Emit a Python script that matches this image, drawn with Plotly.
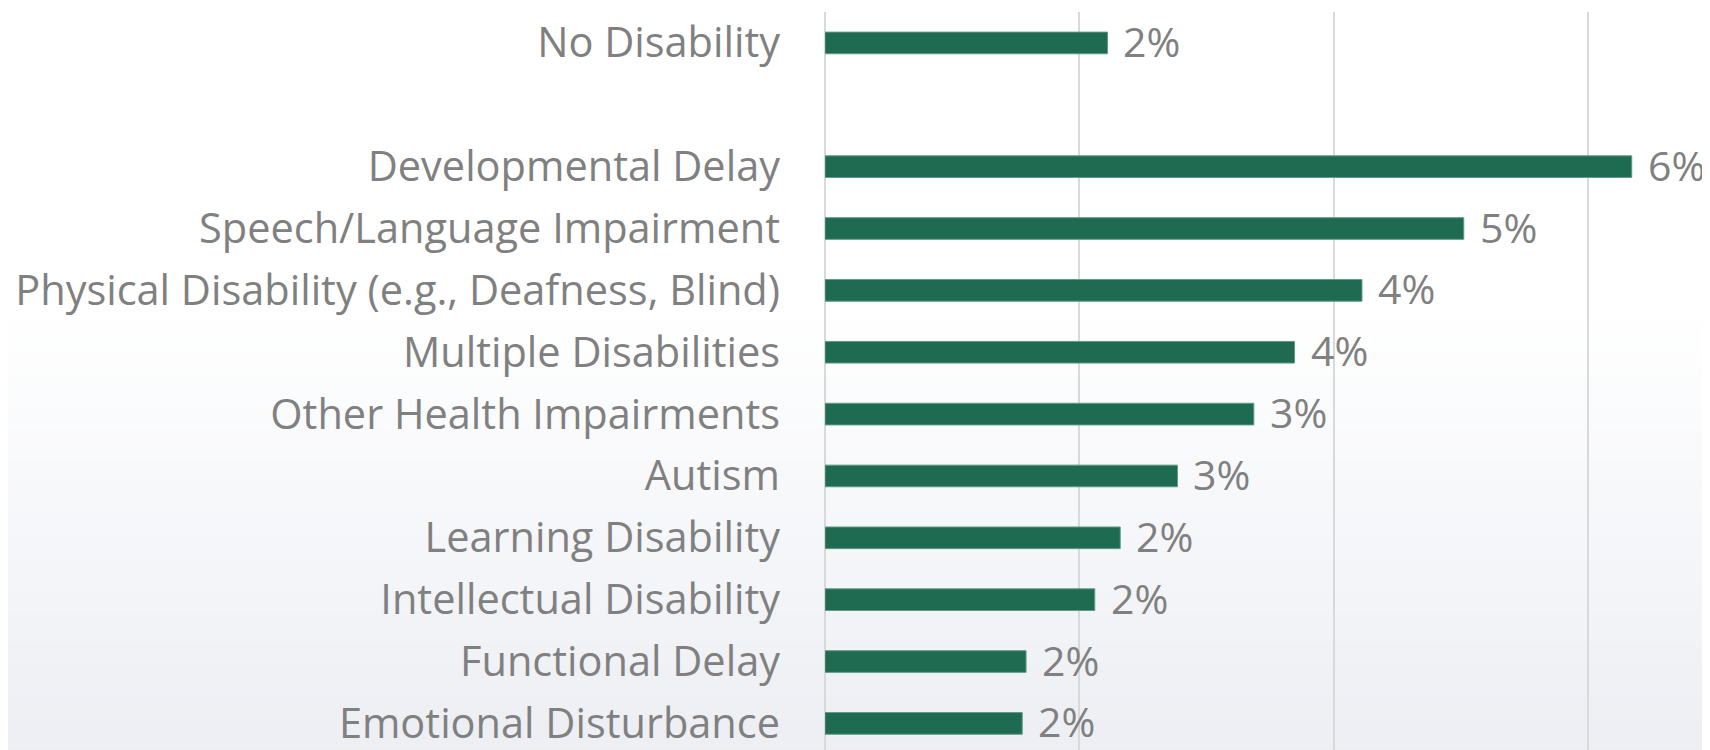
import plotly.graph_objects as go

# categories top to bottom; the blank one is the gap under "No Disability"
categories = [
    "No Disability",
    " ",
    "Developmental Delay",
    "Speech/Language Impairment",
    "Physical Disability (e.g., Deafness, Blind)",
    "Multiple Disabilities",
    "Other Health Impairments",
    "Autism",
    "Learning Disability",
    "Intellectual Disability",
    "Functional Delay",
    "Emotional Disturbance",
]
values = [0.0222, None, 0.0634, 0.0502, 0.0422, 0.0369, 0.0337, 0.0277, 0.0232, 0.0212, 0.0158, 0.0155]

bar_color = "#1f6b51"
text_color = "#808080"
font_family = "Open Sans"

fig = go.Figure()
fig.add_trace(go.Bar(
    x=values,
    y=categories,
    orientation="h",
    marker=dict(color=bar_color, line=dict(color="#5e9a84", width=1)),
    hoverinfo="skip",
))

# value labels next to the bar ends
for cat, v in zip(categories, values):
    if v is None:
        continue
    fig.add_annotation(
        x=v, y=cat, text=f"{v:.0%}", showarrow=False,
        xanchor="left", yanchor="middle", xshift=14, yshift=2,
        font=dict(family=font_family, size=41, color=text_color),
    )

# soft white -> light grey background fade in the lower half
n_strips = 60
top, bottom = 0.6, -0.02
for i in range(n_strips):
    t = i / (n_strips - 1)
    r = round(255 - t * (255 - 236))
    g = round(255 - t * (255 - 238))
    b = round(255 - t * (255 - 243))
    y1 = top - (top - bottom) * i / n_strips
    y0 = top - (top - bottom) * (i + 1) / n_strips
    fig.add_shape(
        type="rect", xref="paper", yref="paper",
        x0=-1.0, x1=1.01, y0=y0 - 0.002, y1=y1,
        fillcolor=f"rgb({r},{g},{b})", line=dict(width=0), layer="below",
    )

# page body has an 8px margin, so the figure is 8px smaller than the window
fig.update_layout(
    width=1702,
    height=742,
    margin=dict(l=817, r=0, t=4, b=0, autoexpand=False),
    paper_bgcolor="white",
    plot_bgcolor="rgba(0,0,0,0)",
    bargap=0.65,
    showlegend=False,
    font=dict(family=font_family, color=text_color),
)
fig.update_xaxes(
    range=[0, 0.06955],
    dtick=0.02,
    showgrid=True,
    gridcolor="#d9d9d9",
    gridwidth=2,
    zeroline=True,
    zerolinecolor="#d9d9d9",
    zerolinewidth=2,
    showticklabels=False,
    fixedrange=True,
    automargin=False,
)
fig.update_yaxes(
    categoryorder="array",
    categoryarray=categories,
    range=[11.43, -0.5],
    tickfont=dict(family=font_family, size=41.5, color=text_color),
    ticklabelstandoff=44,
    showgrid=False,
    fixedrange=True,
    automargin=False,
)

fig.write_html("out.html")
